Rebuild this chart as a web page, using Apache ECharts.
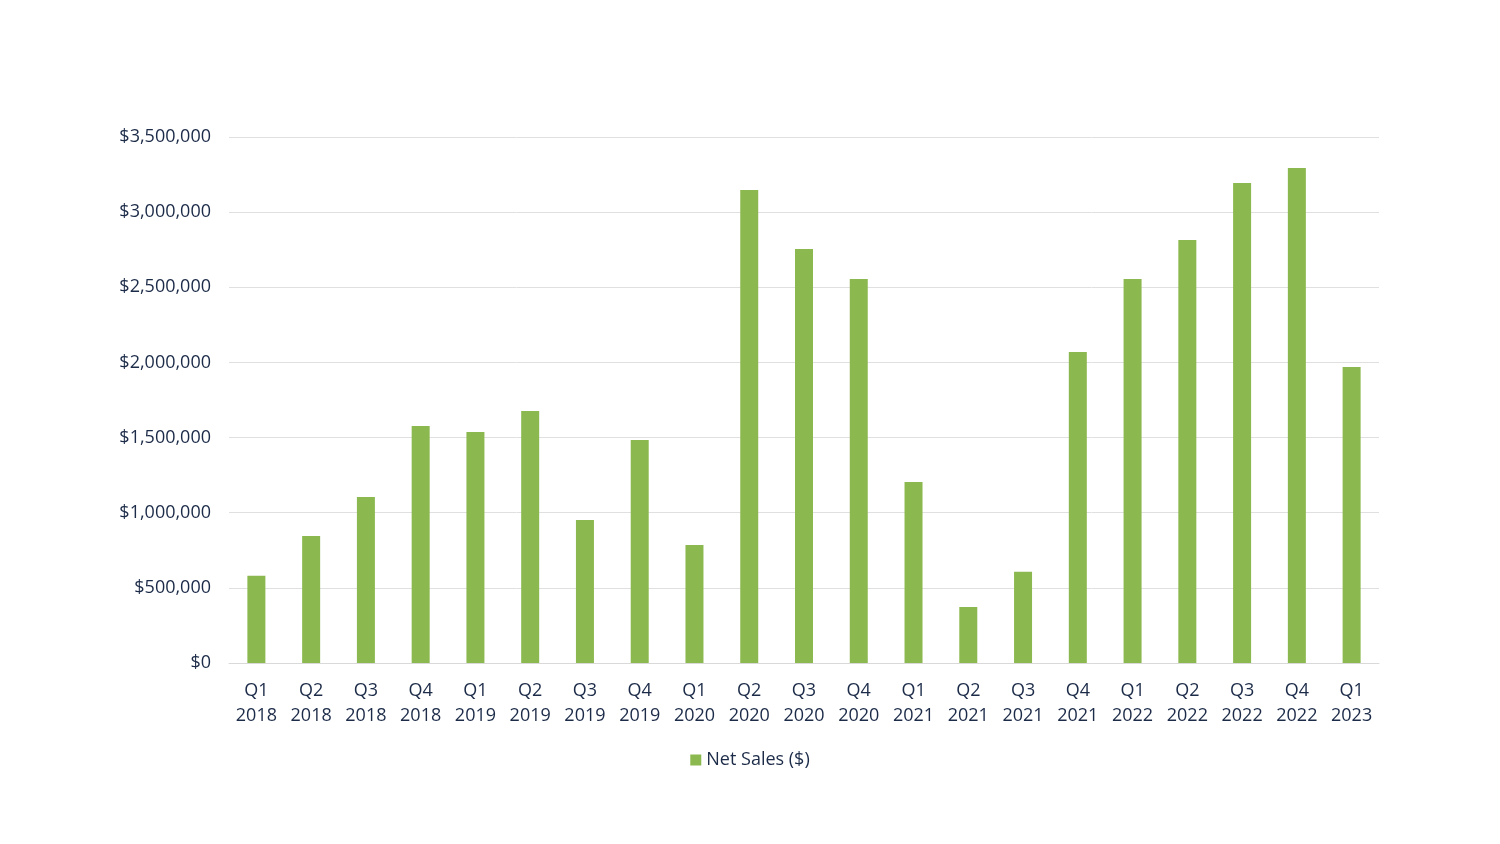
<!DOCTYPE html>
<html><head><meta charset="utf-8">
<script src="https://cdn.jsdelivr.net/npm/echarts@6/dist/echarts.min.js"></script>
<style>html,body{margin:0;padding:0;background:#fff}#c{width:1500px;height:844px}</style>
</head><body><div id="c"></div>
<script>
const categories = ["Q1\n2018","Q2\n2018","Q3\n2018","Q4\n2018","Q1\n2019","Q2\n2019","Q3\n2019","Q4\n2019","Q1\n2020","Q2\n2020","Q3\n2020","Q4\n2020","Q1\n2021","Q2\n2021","Q3\n2021","Q4\n2021","Q1\n2022","Q2\n2022","Q3\n2022","Q4\n2022","Q1\n2023"];
const netSales = [580000,845000,1105000,1577000,1537000,1677000,951000,1484000,785000,3147000,2755000,2555000,1204000,373000,608000,2069000,2555000,2815000,3194000,3294000,1970000];
const seriesName = "Net Sales ($)";
const chart = echarts.init(document.getElementById('c'));
const font = "'Open Sans', 'Liberation Sans', sans-serif";
const txt = '#1c2b48';
chart.setOption({
  animation:false,
  textStyle:{fontFamily:font},
  grid:{left:229,right:121,top:137,bottom:181},
  legend:{bottom:70,left:'center',itemWidth:11,itemHeight:11,icon:'rect',itemGap:6,
    textStyle:{color:txt,fontSize:18,fontFamily:font}},
  xAxis:{type:'category',data:categories,
    axisLine:{lineStyle:{color:'#d9d9d9'}},axisTick:{show:false},
    axisLabel:{color:txt,fontSize:18,lineHeight:25,margin:15,interval:0,fontFamily:font}},
  yAxis:{type:'value',min:0,max:3500000,interval:500000,
    axisLine:{show:false},axisTick:{show:false},
    splitLine:{lineStyle:{color:'#e0e0e0',width:1}},
    axisLabel:{color:txt,fontSize:18,margin:18,fontFamily:font,
      formatter:v=>'$'+v.toLocaleString('en-US')}},
  series:[{name:seriesName,type:'bar',data:netSales,barWidth:18,
    itemStyle:{color:'#8cb94f'}}]
});
</script></body></html>
